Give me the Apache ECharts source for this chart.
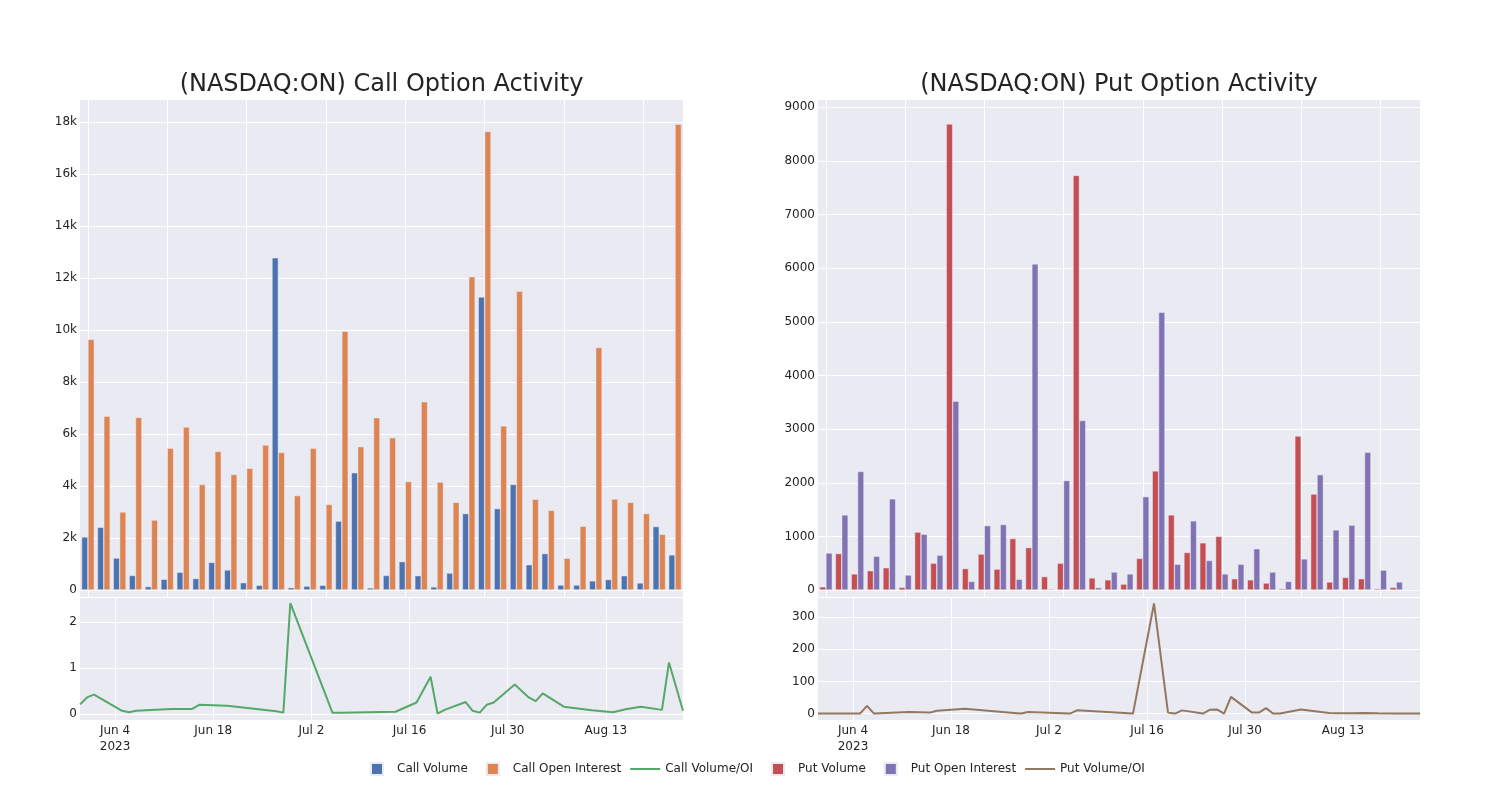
<!DOCTYPE html>
<html>
<head>
<meta charset="utf-8">
<script src="https://cdn.jsdelivr.net/npm/echarts@6/dist/echarts.min.js"></script>
<style>
html,body{margin:0;padding:0;background:#fff;}
#chart{width:1500px;height:800px;}
</style>
</head>
<body>
<div id="chart"></div>
<script>
// ---------- data ----------
const dates = ['2023-05-30','2023-05-31','2023-06-01','2023-06-05','2023-06-06','2023-06-07','2023-06-12','2023-06-15','2023-06-16','2023-06-20','2023-06-27','2023-06-28','2023-06-29','2023-07-05','2023-07-06','2023-07-14','2023-07-17','2023-07-19','2023-07-20','2023-07-21','2023-07-24','2023-07-25','2023-07-26','2023-07-27','2023-07-28','2023-07-31','2023-08-01','2023-08-02','2023-08-03','2023-08-04','2023-08-07','2023-08-11','2023-08-14','2023-08-16','2023-08-18','2023-08-21','2023-08-22','2023-08-24'];

const callVolume = [2040,2410,1230,560,130,410,680,440,1060,770,280,180,12780,90,150,180,2650,4510,80,560,1090,550,120,650,2940,11270,3130,4060,970,1400,190,190,350,400,550,270,2440,1350];
const callOpenInterest = [9640,6680,3000,6640,2690,5450,6270,4060,5330,4440,4680,5580,5290,3630,5450,3290,9950,5510,6630,5860,4170,7240,4150,3370,12050,17640,6310,11490,3490,3060,1220,2450,9330,3500,3370,2940,2140,17920];
const callVolumeOI = [0.21,0.36,0.42,0.07,0.04,0.07,0.11,0.11,0.20,0.18,0.06,0.03,2.41,0.03,0.03,0.05,0.25,0.81,0.01,0.09,0.26,0.07,0.03,0.20,0.25,0.64,0.50,0.36,0.28,0.45,0.16,0.08,0.04,0.11,0.16,0.09,1.12,0.07];

const putVolume = [60,680,300,360,415,50,1080,500,8690,400,670,390,960,790,250,500,7730,225,190,110,590,2220,1400,700,880,1000,210,190,130,25,2870,1790,150,235,210,25,50,5];
const putOpenInterest = [690,1400,2210,630,1700,280,1040,650,3520,160,1200,1220,200,6080,20,2040,3160,45,335,300,1740,5180,480,1290,550,300,480,770,335,160,580,2150,1120,1210,2570,370,150,10];
const putVolumeOI = [0,0,0,0,24,0,5,3,9,15,2,0,5,0,10,0,343,3,0,10,0,12,13,0,52,3,3,17,0,0,13,2,1,2,1,0,0,0];

const callTicks = [0,2000,4000,6000,8000,10000,12000,14000,16000,18000];
const putTicks = [0,1000,2000,3000,4000,5000,6000,7000,8000,9000];
const callRatioTicks = [0,1,2];
const putRatioTicks = [0,100,200,300];
const dateTicks = ['2023-06-04','2023-06-18','2023-07-02','2023-07-16','2023-07-30','2023-08-13'];
const gridCats = [0,5,10,15,20,25,30,35];

// ---------- helpers ----------
const FONT = 'DejaVu Sans';
const TXT = '#242424';
const BG = '#eaeaf2';
const MON = ['Jan','Feb','Mar','Apr','May','Jun','Jul','Aug','Sep','Oct','Nov','Dec'];
function ts(s){ const p = s.split('-').map(Number); return Date.UTC(p[0], p[1]-1, p[2]); }
const dateTs = dates.map(ts);
const dateTickTs = dateTicks.map(ts);
function dateFmt(v){
  const d = new Date(v);
  const s = MON[d.getUTCMonth()] + ' ' + d.getUTCDate();
  return Math.abs(v - dateTickTs[0]) < 3600000 ? s + '\n' + d.getUTCFullYear() : s;
}
function kFmt(v){ return v === 0 ? '0' : (v/1000) + 'k'; }

const chart = echarts.init(document.getElementById('chart'), null, {renderer:'canvas'});

const grids = [
  {left:80, top:100, width:603, height:497},
  {left:80, top:598, width:603, height:122},
  {left:818, top:100, width:602, height:497},
  {left:818, top:598, width:602, height:122}
].map(g => Object.assign({show:true, backgroundColor:BG, borderWidth:0, containLabel:false}, g));

const whiteSplit = {show:true, lineStyle:{color:'#ffffff', width:1}};
const lbl = {color:TXT, fontFamily:FONT, fontSize:12};

function catAxis(gi){
  return {type:'category', gridIndex:gi, data:dates, boundaryGap:true,
    axisLine:{show:false}, axisTick:{show:false}, axisLabel:{show:false}, splitLine:{show:false}};
}
function idxGridAxis(gi){
  return {type:'value', gridIndex:gi, min:-0.5, max:dates.length-0.5,
    axisLine:{show:false}, axisTick:{show:false, customValues:gridCats},
    axisLabel:{show:false, customValues:gridCats}, splitLine:whiteSplit};
}
function timeAxis(gi){
  return {type:'value', gridIndex:gi, min:dateTs[0], max:dateTs[dateTs.length-1],
    axisLine:{show:false}, axisTick:{show:false, customValues:dateTickTs},
    axisLabel:Object.assign({customValues:dateTickTs, formatter:dateFmt, margin:3, lineHeight:16}, lbl),
    splitLine:whiteSplit};
}
function valAxis(gi, min, max, ticks, fmt){
  return {type:'value', gridIndex:gi, min:min, max:max,
    axisLine:{show:false}, axisTick:{show:false, customValues:ticks},
    axisLabel:Object.assign({customValues:ticks, formatter:fmt, margin:3}, lbl),
    splitLine:whiteSplit};
}

const barBase = {type:'bar', barGap:'0%', barCategoryGap:'20%', z:3};
const border = {borderColor:BG, borderWidth:0.5};
const sq = 'path://M0,0L0,0M35,12L35,12M14,0L26,0L26,12L14,12Z';
const ln = 'path://M0,0L0,0M35,12L35,12M5,5L35,5L35,7L5,7Z';

const option = {
  animation:false,
  backgroundColor:'#ffffff',
  textStyle:{fontFamily:FONT},
  title:[
    {text:'(NASDAQ:ON) Call Option Activity', left:381.5, top:73, padding:0, textAlign:'center',
      textStyle:{fontFamily:FONT, fontSize:24, fontWeight:'normal', color:TXT}},
    {text:'(NASDAQ:ON) Put Option Activity', left:1119, top:73, padding:0, textAlign:'center',
      textStyle:{fontFamily:FONT, fontSize:24, fontWeight:'normal', color:TXT}}
  ],
  legend:{
    left:356, top:762, padding:0, itemWidth:35, itemHeight:12, itemGap:4,
    textStyle:{fontFamily:FONT, fontSize:12, color:TXT},
    data:[
      {name:'Call Volume', icon:sq},
      {name:'Call Open Interest', icon:sq},
      {name:'Call Volume/OI', icon:ln},
      {name:'Put Volume', icon:sq},
      {name:'Put Open Interest', icon:sq},
      {name:'Put Volume/OI', icon:ln}
    ]
  },
  grid:grids,
  xAxis:[
    catAxis(0), idxGridAxis(0), timeAxis(1),
    catAxis(2), idxGridAxis(2), timeAxis(3)
  ],
  yAxis:[
    valAxis(0, -270, 18850, callTicks, kFmt),
    valAxis(1, -0.13, 2.52, callRatioTicks, v => String(v)),
    valAxis(2, -130, 9136, putTicks, v => String(v)),
    valAxis(3, -20, 360, putRatioTicks, v => String(v))
  ],
  series:[
    Object.assign({name:'Call Volume', xAxisIndex:0, yAxisIndex:0, data:callVolume,
      itemStyle:Object.assign({color:'#4c72b0'}, border)}, barBase),
    Object.assign({name:'Call Open Interest', xAxisIndex:0, yAxisIndex:0, data:callOpenInterest,
      itemStyle:Object.assign({color:'#dd8452'}, border)}, barBase),
    {name:'Call Volume/OI', type:'line', xAxisIndex:2, yAxisIndex:1, symbol:'none', showSymbol:false,
      data:dateTs.map((d,i)=>[d, callVolumeOI[i]]), itemStyle:{color:'#55a868'},
      lineStyle:{color:'#55a868', width:2}, z:3},
    Object.assign({name:'Put Volume', xAxisIndex:3, yAxisIndex:2, data:putVolume,
      itemStyle:Object.assign({color:'#c44e52'}, border)}, barBase),
    Object.assign({name:'Put Open Interest', xAxisIndex:3, yAxisIndex:2, data:putOpenInterest,
      itemStyle:Object.assign({color:'#8172b3'}, border)}, barBase),
    {name:'Put Volume/OI', type:'line', xAxisIndex:5, yAxisIndex:3, symbol:'none', showSymbol:false,
      data:dateTs.map((d,i)=>[d, putVolumeOI[i]]), itemStyle:{color:'#937860'},
      lineStyle:{color:'#937860', width:2}, z:3}
  ]
};
chart.setOption(option);
</script>
</body>
</html>
